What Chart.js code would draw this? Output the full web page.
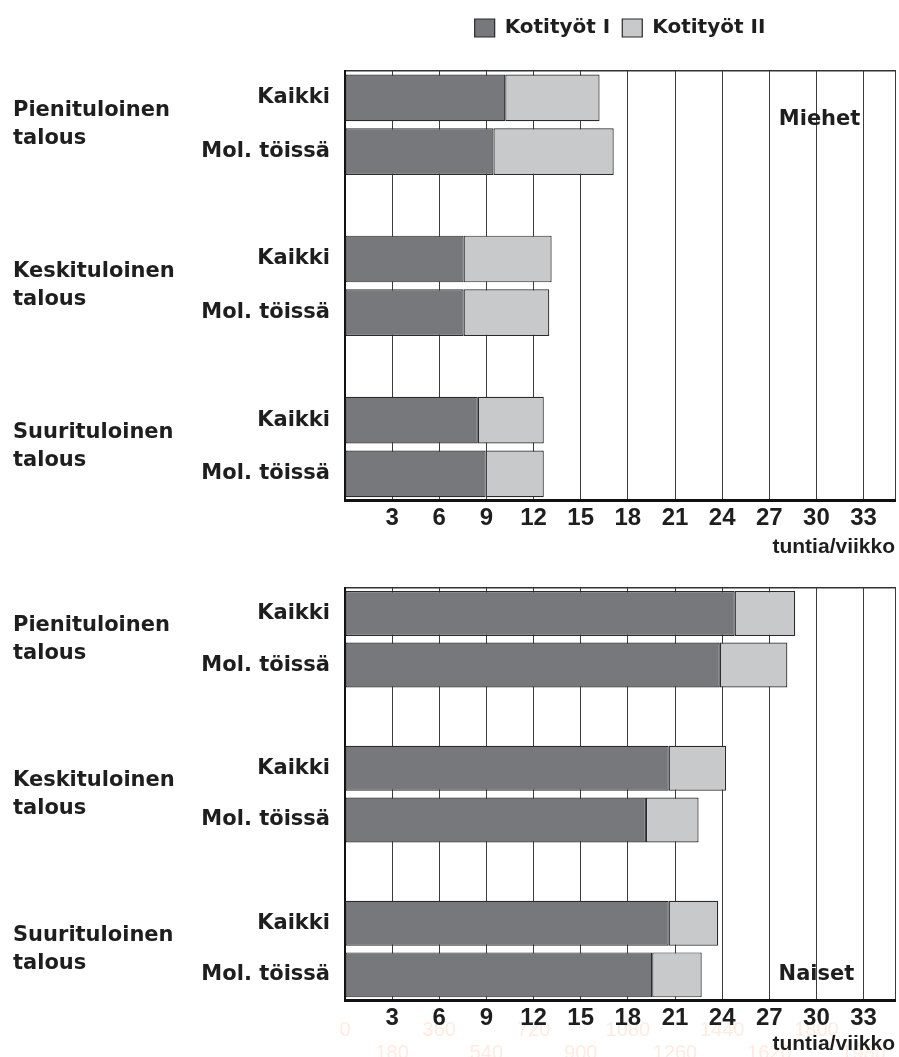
<!DOCTYPE html>
<html>
<head>
<meta charset="utf-8">
<script src="https://cdn.jsdelivr.net/npm/chart.js@4.4.1/dist/chart.umd.min.js"></script>
<style>
  body { margin: 0; background: #fff; }
  canvas { position: absolute; left: 0; }
  #miehet_chart { top: 0; }
  #naiset_chart { top: 560px; }
</style>
</head>
<body>
<canvas id="miehet_chart" width="899" height="560"></canvas>
<canvas id="naiset_chart" width="899" height="497"></canvas>
<script>
// rows of the y axis, empty strings are the gaps between income groups
var rowLabels = ['Kaikki', 'Mol. töissä', '', 'Kaikki', 'Mol. töissä', '', 'Kaikki', 'Mol. töissä'];
var groupLabels = [['Pienituloinen', 'talous'], ['Keskituloinen', 'talous'], ['Suurituloinen', 'talous']];
var seriesNames = ['Kotityöt I', 'Kotityöt II'];
var hourTicks = [3, 6, 9, 12, 15, 18, 21, 24, 27, 30, 33];
var minuteTicks = [0, 180, 360, 540, 720, 900, 1080, 1260, 1440, 1620, 1800, 1980];
var axisTitle = 'tuntia/viikko';
var axisMax = 35;

// hours per week (second series = the light part on top of the first)
var menI = [10.2, 9.45, null, 7.55, 7.55, null, 8.45, 8.95];
var menII = [6.0, 7.65, null, 5.6, 5.45, null, 4.2, 3.7];
var womenI = [24.8, 23.85, null, 20.6, 19.15, null, 20.6, 19.55];
var womenII = [3.85, 4.3, null, 3.65, 3.35, null, 3.15, 3.15];

var ink = '#1e1e1e';
var labelFont = { family: 'DejaVu Sans', weight: 'bold', size: 21 };

var groupLabelPlugin = {
  id: 'groupLabels',
  afterDraw: function(chart) {
    var ctx = chart.ctx;
    var y = chart.scales.y;
    ctx.save();
    ctx.font = 'bold 21px "DejaVu Sans"';
    ctx.fillStyle = ink;
    ctx.textAlign = 'left';
    ctx.textBaseline = 'middle';
    groupLabels.forEach(function(lines, i) {
      var mid = y.getPixelForValue(i * 3 + 0.5);
      ctx.fillText(lines[0], 13, mid - 14);
      ctx.fillText(lines[1], 13, mid + 14);
    });
    ctx.restore();
  }
};

var panelTitlePlugin = {
  id: 'panelTitle',
  afterDatasetsDraw: function(chart, args, opts) {
    if (!opts.text) return;
    var ctx = chart.ctx;
    ctx.save();
    ctx.font = 'bold 21px "DejaVu Sans"';
    ctx.fillStyle = ink;
    ctx.textAlign = 'center';
    ctx.textBaseline = 'middle';
    ctx.fillText(opts.text, chart.scales.x.getPixelForValue(opts.xValue), chart.scales.y.getPixelForValue(opts.yValue));
    ctx.restore();
  }
};

// faint minute numbers printed under the lower axis
var ghostMinutesPlugin = {
  id: 'ghostMinutes',
  beforeDraw: function(chart, args, opts) {
    if (!opts.show) return;
    var ctx = chart.ctx;
    var x = chart.scales.x;
    ctx.save();
    ctx.font = '20px "Liberation Sans"';
    ctx.fillStyle = '#feebe2';
    ctx.textAlign = 'center';
    ctx.textBaseline = 'middle';
    minuteTicks.forEach(function(m, i) {
      ctx.fillText(String(m), x.getPixelForValue(m / 60), x.top + (i % 2 === 0 ? 30 : 53));
    });
    ctx.restore();
  }
};

// centre the legend over the plot area instead of the whole canvas
var legendOverPlot = {
  id: 'legendOverPlot',
  afterLayout: function(chart) {
    var lg = chart.legend;
    if (!lg || !lg.options.display) return;
    lg.left = chart.chartArea.left;
    lg.right = chart.chartArea.right;
    lg.width = lg.right - lg.left;
  }
};

function makeChart(canvasId, dataI, dataII, cfg) {
  return new Chart(document.getElementById(canvasId), {
    type: 'bar',
    data: {
      labels: rowLabels,
      datasets: [{
        label: seriesNames[0],
        data: dataI,
        backgroundColor: '#77787b',
        borderColor: '#2a2a2a',
        borderWidth: 1.2,
        borderSkipped: false,
        barPercentage: 0.87,
        categoryPercentage: 1
      }, {
        label: seriesNames[1],
        data: dataII,
        backgroundColor: '#c8c9cb',
        borderColor: '#2a2a2a',
        borderWidth: 1.2,
        borderSkipped: false,
        barPercentage: 0.87,
        categoryPercentage: 1
      }]
    },
    options: {
      indexAxis: 'y',
      responsive: false,
      animation: false,
      devicePixelRatio: 1,
      layout: { padding: { top: cfg.padTop, right: 4, left: 0, bottom: 0 } },
      plugins: {
        legend: {
          display: cfg.legend,
          position: 'top',
          labels: {
            boxWidth: 20,
            boxHeight: 18,
            padding: 12,
            color: ink,
            font: { family: 'DejaVu Sans', weight: 'bold', size: 20 }
          }
        },
        tooltip: { enabled: false },
        panelTitle: { text: cfg.title, xValue: cfg.titleX, yValue: cfg.titleY },
        ghostMinutes: { show: cfg.ghost }
      },
      scales: {
        x: {
          type: 'linear',
          min: 0,
          max: axisMax,
          stacked: true,
          afterBuildTicks: function(s) {
            s.ticks = [0].concat(hourTicks, [axisMax]).map(function(v) { return { value: v }; });
          },
          grid: { color: '#3c3c3c', lineWidth: 1, drawTicks: false },
          border: { display: true, color: '#111', width: 3 },
          ticks: {
            autoSkip: false,
            maxRotation: 0,
            padding: 3,
            color: ink,
            font: { family: 'Liberation Sans', weight: 'bold', size: 24 },
            callback: function(v) { return hourTicks.indexOf(v) >= 0 ? String(v) : ''; }
          },
          title: {
            display: true,
            text: axisTitle,
            align: 'end',
            color: ink,
            padding: { top: 0, bottom: 0 },
            font: { family: 'Liberation Sans', weight: 'bold', size: 21 }
          },
          afterFit: function(s) { s.height = cfg.xHeight; }
        },
        xTop: {
          type: 'linear',
          position: 'top',
          min: 0,
          max: axisMax,
          grid: { display: false, drawTicks: false },
          ticks: { display: false },
          border: { display: true, color: '#333', width: 1.5 },
          afterFit: function(s) { s.height = cfg.topGap; }
        },
        y: {
          type: 'category',
          stacked: true,
          offset: true,
          grid: { display: false, drawTicks: false },
          border: { display: true, color: '#111', width: 2 },
          ticks: { autoSkip: false, padding: 15, color: ink, font: labelFont },
          afterFit: function(s) { s.width = 345; }
        }
      }
    },
    plugins: [groupLabelPlugin, panelTitlePlugin, ghostMinutesPlugin, legendOverPlot]
  });
}

makeChart('miehet_chart', menI, menII, {
  legend: true, padTop: 6, topGap: 23, xHeight: 59.3,
  title: 'Miehet', titleX: 30.2, titleY: 0.4, ghost: false
});

makeChart('naiset_chart', womenI, womenII, {
  legend: false, padTop: 0, topGap: 13.3, xHeight: 56.3,
  title: 'Naiset', titleX: 30, titleY: 7, ghost: true
});
</script>
</body>
</html>
